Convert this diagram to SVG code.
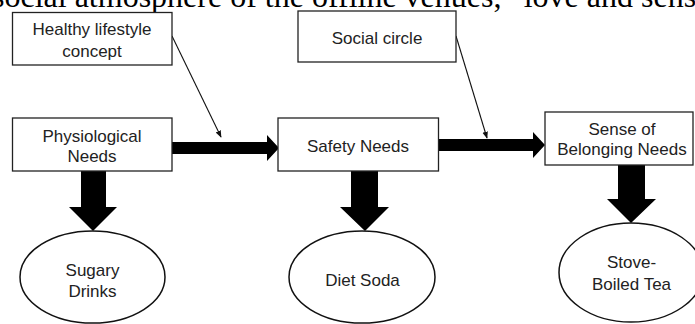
<svg xmlns="http://www.w3.org/2000/svg" width="695" height="324" viewBox="0 0 695 324">
<defs>
<style>
.box{fill:#fff;stroke:#222;stroke-width:1.3}
.ell{fill:#fff;stroke:#111;stroke-width:1.5}
.lbl{font-family:"Liberation Sans",Arial,sans-serif;font-size:17px;fill:#222;text-anchor:middle}
.top{font-family:"Liberation Serif","Times New Roman",serif;font-size:32px;fill:#000}
.thin{stroke:#111;stroke-width:1.1;fill:none;marker-end:url(#ah)}
.thick{fill:#000}
</style>
<marker id="ah" viewBox="0 0 10 10" refX="9" refY="5" markerWidth="7" markerHeight="7" markerUnits="userSpaceOnUse" orient="auto">
<path d="M0,1 L10,5 L0,9 Z" fill="#111"/>
</marker>
</defs>
<rect width="695" height="324" fill="#fff"/>
<text class="top" x="-8" y="7">social atmosphere of the offline venues, “love and sens</text>

<g id="connectors">
<line class="thin" x1="172" y1="36" x2="221" y2="137"/>
<line class="thin" x1="456" y1="36" x2="487" y2="138"/>
<path class="thick" d="M172,142 H267 V135 L279,148 L267,161 V154 H172 Z"/>
<path class="thick" d="M438,139 H533 V132 L545,145 L533,158 V151 H438 Z"/>
<path class="thick" d="M81,171 H106 V207 H117 L93,231 L69,207 H81 Z"/>
<path class="thick" d="M351,171 H378 V207 H389 L365,231 L340,207 H351 Z"/>
<path class="thick" d="M618,165 H645 V199 H656 L631,223 L607,199 H618 Z"/>
</g>

<g id="healthy">
<rect class="box" x="12.5" y="12.5" width="159.5" height="52.5"/>
<text class="lbl" x="92" y="35">Healthy lifestyle</text>
<text class="lbl" x="92" y="57">concept</text>
</g>
<g id="social">
<rect class="box" x="298" y="11" width="158" height="51"/>
<text class="lbl" x="377" y="44">Social circle</text>
</g>
<g id="physiological">
<rect class="box" x="12.5" y="118" width="159.5" height="53"/>
<text class="lbl" x="92" y="141.5">Physiological</text>
<text class="lbl" x="92" y="162">Needs</text>
</g>
<g id="safety">
<rect class="box" x="278" y="118" width="160.5" height="53"/>
<text class="lbl" x="358" y="152">Safety Needs</text>
</g>
<g id="belonging">
<rect class="box" x="545" y="112" width="148" height="53"/>
<text class="lbl" x="622" y="135">Sense of</text>
<text class="lbl" x="622" y="155">Belonging Needs</text>
</g>
<g id="sugary">
<ellipse class="ell" cx="92.5" cy="277" rx="72.5" ry="46"/>
<text class="lbl" x="92.5" y="276">Sugary</text>
<text class="lbl" x="92.5" y="297">Drinks</text>
</g>
<g id="diet">
<ellipse class="ell" cx="362" cy="277" rx="73" ry="46"/>
<text class="lbl" x="362.5" y="286">Diet Soda</text>
</g>
<g id="tea">
<ellipse class="ell" cx="631" cy="272.5" rx="72" ry="49.5"/>
<text class="lbl" x="631.5" y="268">Stove-</text>
<text class="lbl" x="631.5" y="290">Boiled Tea</text>
</g>
</svg>
